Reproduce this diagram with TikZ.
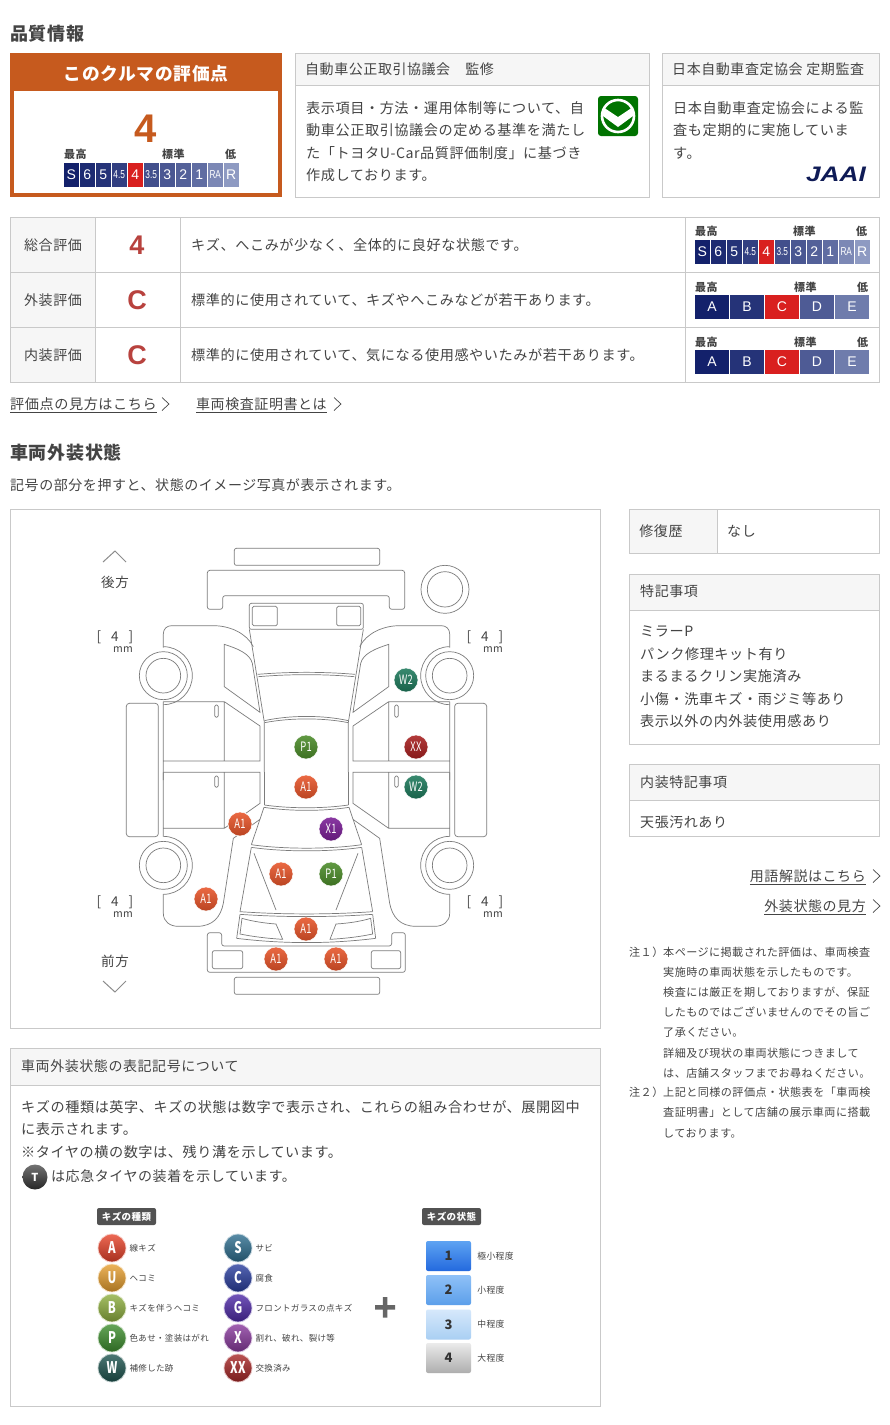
\documentclass[tikz,border=0pt]{standalone}
\usepackage{fontspec}
\setmainfont{Noto Sans CJK JP}[LetterSpace=4]
\newfontfamily\logofont{Liberation Sans}
\usetikzlibrary{positioning}
\definecolor{inktext}{HTML}{444444}
\definecolor{boxline}{HTML}{C9C9C9}
\definecolor{headfill}{HTML}{F6F6F6}
\definecolor{carink}{HTML}{7C7C7C}
\definecolor{rust}{HTML}{C65A1E}
\definecolor{navyhi}{HTML}{13216B}
\definecolor{navylo}{HTML}{8E9AC2}
\definecolor{flagred}{HTML}{D9201F}
\definecolor{gradered}{HTML}{B8423E}
\definecolor{dmgA}{HTML}{E8552A}
\definecolor{dmgP}{HTML}{4C8C2A}
\definecolor{dmgW}{HTML}{1E7A5C}
\definecolor{dmgXX}{HTML}{A82020}
\definecolor{dmgX}{HTML}{7A1E96}
\definecolor{kindA}{HTML}{E8432A}
\definecolor{kindU}{HTML}{E8A030}
\definecolor{kindB}{HTML}{8FB040}
\definecolor{kindP}{HTML}{3F8F2F}
\definecolor{kindW}{HTML}{1F5550}
\definecolor{kindS}{HTML}{2F6F90}
\definecolor{kindC}{HTML}{2A3F9F}
\definecolor{kindG}{HTML}{4F2AA8}
\definecolor{kindX}{HTML}{8A3A9E}
\definecolor{kindXX}{HTML}{A82828}
\tikzset{
  txt/.style={inner sep=0pt, anchor=west, text=inktext, font=\fontsize{#1}{#1}\selectfont},
  para/.style={inner sep=0pt, anchor=north west, align=left, text=inktext, font=\fontsize{14.15}{22.5}\selectfont},
  panel/.style={draw=boxline, line width=0.8pt, fill=white},
  headband/.style={draw=boxline, line width=0.8pt, fill=headfill},
  heading/.style={inner sep=0pt, anchor=west, text=inktext, font=\fontsize{18}{18}\selectfont\bfseries},
  cell/.style={inner sep=0pt, minimum height=24pt, text=white},
  carline/.style={draw=carink, line width=0.7pt},
  dmg/.style={shape=circle, minimum size=24pt, inner sep=0pt, text=white, draw=white, line width=0.5pt,
    font=\fontsize{13}{13}\selectfont, top color=#1!88!white, bottom color=#1!80!black},
  kind/.style={shape=circle, minimum size=28pt, inner sep=0pt, text=white, draw=#1!25!white, line width=0.8pt,
    font=\fontsize{16}{16}\selectfont\bfseries, top color=#1!80!white, bottom color=#1!72!black},
  tag/.style={inner sep=0pt, minimum width=59pt, minimum height=17pt, rounded corners=2pt, fill=black!68,
    text=white, font=\fontsize{9.5}{9.5}\selectfont\bfseries},
  level/.style={inner sep=0pt, minimum width=45pt, minimum height=30pt, rounded corners=2pt, text=black!80,
    font=\fontsize{13}{13}\selectfont\bfseries},
  barhead/.style={inner sep=0pt, anchor=west, text=inktext, font=\fontsize{11}{11}\selectfont\bfseries},
  chev/.style={draw=inktext, line width=0.7pt},
}
\newcommand{\tight}[1]{\scalebox{.72}[1]{#1}}
\newcommand{\smallcell}[1]{{\fontsize{11.5}{11.5}\selectfont\scalebox{.72}[1]{#1}}}
% eleven step bar
\newcommand{\stepbar}[3]{
  \node[barhead] (#1best) at (#2,#3-8) {最高};
  \node[barhead] (#1std) at (#2+98,#3-8) {標準};
  \node[barhead] (#1low) at (#2+161,#3-8) {低};
  \foreach \lab/\i/\pct in {S/0/100,6/1/92,5/2/85,\smallcell{4.5}/3/75,4/4/0,\smallcell{3.5}/5/62,3/6/55,2/7/47,1/8/37,\smallcell{RA}/9/15,R/10/0}{
    \ifnum\i=4 \colorlet{cellfill}{flagred}\else \colorlet{cellfill}{navyhi!\pct!navylo}\fi
    \node[cell, minimum width=14.5pt, fill=cellfill, font=\logofont\fontsize{14}{14}\selectfont] (#1s\i) at (#2+7.25+16*\i,#3+12) {\lab};
  }
}
% five letter bar
\newcommand{\gradebar}[3]{
  \node[barhead] (#1best) at (#2,#3-8) {最高};
  \node[barhead] (#1std) at (#2+99,#3-8) {標準};
  \node[barhead] (#1low) at (#2+162,#3-8) {低};
  \foreach \lab/\i/\pct in {A/0/100,B/1/85,C/2/0,D/3/52,E/4/25}{
    \ifnum\i=2 \colorlet{cellfill}{flagred}\else \colorlet{cellfill}{navyhi!\pct!navylo}\fi
    \node[cell, minimum width=34pt, fill=cellfill, font=\logofont\fontsize{14}{14}\selectfont] (#1g\i) at (#2+17+35*\i,#3+12) {\lab};
  }
}
\newcommand{\linkchev}[2]{\draw[chev] (#1,#2-6.5) -- (#1+7,#2) -- (#1,#2+6.5);}
% one side of the car, #1 is the x origin, #2 the x unit
\newcommand{\carside}[2]{
  \begin{scope}[shift={(#1,530)}, x=#2, y=-0.33333pt]
    \draw[carline] (220,353) -- (220,312) .. controls (220,297) and (230,287) .. (245,287) -- (370,287) .. controls (420,287) and (470,310) .. (490,350);
    \draw[carline] (220,350) arc[start angle=-90, end angle=90, radius=87];
    \draw[carline] (220,437) circle[radius=72] (220,437) circle[radius=52];
    \draw[carline] (403,343) .. controls (440,355) and (480,370) .. (487,400) -- (510,547) -- (403,470) -- cycle;
    \draw[carline] (220,515) -- (220,750) (220,515) -- (403,515) -- (510,588) -- (510,693) -- (220,693) (403,515) -- (403,693);
    \draw[carline, rounded corners=1.5pt] (374,525) rectangle (385,562);
    \draw[carline, rounded corners=3pt] (109,520) rectangle (205,920);
  \end{scope}
  \begin{scope}[shift={(#1,770)}, x=#2, y=-0.33333pt]
    \draw[carline] (220,7) -- (510,7) -- (510,100) -- (403,175) -- (220,175) (403,7) -- (403,175) (220,7) -- (220,200);
    \draw[carline, rounded corners=1.5pt] (374,18) rectangle (385,52);
    \draw[carline] (220,199) arc[start angle=-90, end angle=90, radius=87];
    \draw[carline] (220,286) circle[radius=72] (220,286) circle[radius=52];
    \draw[carline] (220,372) -- (220,430) .. controls (220,455) and (240,469) .. (265,469) -- (320,469) .. controls (370,469) and (392,440) .. (400,400) -- (430,205) -- (510,148);
  \end{scope}
}
\begin{document}
\begin{tikzpicture}[x=1pt, y=-1pt]
\useasboundingbox (0,0) rectangle (890,1425);
\node[heading] (quality) at (10,34) {品質情報};
% score box
\fill[rust] (10,53) rectangle (282,197);
\fill[white] (14,91) rectangle (278,193);
\node[text=white, inner sep=0pt, font=\fontsize{17.7}{17.7}\selectfont\bfseries] (scoretitle) at (146,74) {このクルマの評価点};
\node[text=rust, inner sep=0pt, font=\logofont\fontsize{40}{40}\selectfont\bfseries] (scorenum) at (146,129) {4};
\stepbar{top}{64}{162.5}
% supervision panels
\draw[panel] (295,53) rectangle (649,197);
\draw[headband] (295,53) rectangle (649,85);
\node[txt=14] (sup) at (305,69) {自動車公正取引協議会　監修};
\node[para] (suptext) at (306,101) {表示項目・方法・運用体制等について、自\\動車公正取引協議会の定める基準を満たし\\た「トヨタU-Car品質評価制度」に基づき\\作成しております。};
\fill[green!45!black, rounded corners=3pt] (598,96) rectangle (638,136);
\draw[white, line width=2.6pt] (618,116) circle[radius=16];
\fill[white] (603,107) -- (618,117) -- (633,107) -- (633,116) -- (618,127) -- (603,116) -- cycle;
\draw[panel] (662,53) rectangle (879.6,197);
\draw[headband] (662,53) rectangle (879.6,85);
\node[txt=14] (aud) at (672,69) {日本自動車査定協会 定期監査};
\node[para] (audtext) at (673,101) {日本自動車査定協会による監\\査も定期的に実施していま\\す。};
\node[inner sep=0pt, text=navyhi!80!black, font=\logofont\fontsize{21}{21}\selectfont\bfseries\itshape, xscale=1.25] (jaai) at (836,174) {JAAI};
% rating table
\draw[panel] (10,217) rectangle (879.6,382);
\fill[headfill] (10,217) rectangle (95,382);
\draw[boxline, line width=0.8pt] (10,217) rectangle (879.6,382);
\foreach \y in {272,327}{\draw[boxline, line width=0.8pt] (10,\y) -- (879.6,\y);}
\foreach \x in {95,180,685}{\draw[boxline, line width=0.8pt] (\x,217) -- (\x,382);}
\foreach \lab/\grd/\desc/\y/\nm in {総合評価/4/キズ、へこみが少なく、全体的に良好な状態です。/245/all,外装評価/C/標準的に使用されていて、キズやへこみなどが若干あります。/300/ext,内装評価/C/標準的に使用されていて、気になる使用感やいたみが若干あります。/355/int}{
  \node[txt=14, anchor=center] (\nm lab) at (53,\y) {\lab};
  \node[inner sep=0pt, text=gradered, font=\logofont\fontsize{27}{27}\selectfont\bfseries] (\nm grade) at (137,\y) {\grd};
  \node[txt=14.15] (\nm desc) at (191,\y) {\desc};
}
\stepbar{rowa}{695}{239.5}
\gradebar{rowb}{695}{295}
\gradebar{rowc}{695}{350}
\node[txt=14.15] (linka) at (10,405) {\underline{評価点の見方はこちら}};
\linkchev{162}{404}
\node[txt=14] (linkb) at (196,405) {\underline{車両検査証明書とは}};
\linkchev{334}{404}
\node[heading] (extcond) at (10,453) {車両外装状態};
\node[txt=14] (extnote) at (10,485) {記号の部分を押すと、状態のイメージ写真が表示されます。};
% car panel
\draw[panel] (10,509) rectangle (600.6,1028);
\carside{90}{0.33333pt}
\carside{523}{-0.33333pt}
\begin{scope}[shift={(90,530)}, x=0.33333pt, y=-0.33333pt]
  \draw[carline, rounded corners=2pt] (433,55) rectangle (869,106);
  \draw[carline, rounded corners=2.5pt] (352,121) -- (944,121) -- (944,238) -- (898,238) -- (898,197) -- (398,197) -- (398,238) -- (352,238) -- cycle;
  \draw[carline] (1065,178) circle[radius=72] (1065,178) circle[radius=53];
  \draw[carline, rounded corners=2pt] (478,298) -- (478,220) -- (820,220) -- (820,298) -- cycle;
  \draw[carline, rounded corners=1.5pt] (487,229) rectangle (562,287) (740,229) rectangle (812,287);
  \draw[carline] (478,298) -- (523,577) -- (523,726) (820,298) -- (775,577) -- (775,726);
  \draw[carline] (503,433) .. controls (600,425) and (700,425) .. (795,433);
  \draw[carline] (505,440) .. controls (600,432) and (700,432) .. (793,440);
  \draw[carline] (523,572) .. controls (600,555) and (700,555) .. (775,572);
  \draw[carline] (524,578) .. controls (600,563) and (700,563) .. (775,578);
\end{scope}
\begin{scope}[shift={(90,770)}, x=0.33333pt, y=-0.33333pt]
  \draw[carline] (523,7) -- (523,105) (775,7) -- (775,105);
  \draw[carline] (523,105) .. controls (600,116) and (700,116) .. (775,105);
  \draw[carline] (522,112) .. controls (600,124) and (700,124) .. (777,112);
  \draw[carline] (522,112) -- (484,224) (777,112) -- (815,224);
  \draw[carline] (484,224) .. controls (580,238) and (720,238) .. (815,224);
  \draw[carline] (484,232) .. controls (580,246) and (720,246) .. (815,232);
  \draw[carline] (484,232) -- (450,425) (815,232) -- (848,425);
  \draw[carline] (492,250) -- (558,420) (804,250) -- (738,420);
  \draw[carline] (450,425) .. controls (580,434) and (720,434) .. (848,425);
  \draw[carline] (450,433) .. controls (580,442) and (720,442) .. (848,433);
  \draw[carline] (450,433) -- (440,505) (848,433) -- (857,505);
  \draw[carline] (440,505) .. controls (580,522) and (720,522) .. (857,505);
  \draw[carline] (456,445) .. controls (490,455) and (530,460) .. (558,462) -- (578,508) .. controls (530,505) and (490,500) .. (450,492) -- cycle;
  \draw[carline] (842,445) .. controls (810,455) and (770,460) .. (738,462) -- (720,508) .. controls (770,505) and (810,500) .. (848,492) -- cycle;
  \draw[carline, rounded corners=2.5pt] (352,488) -- (395,488) -- (395,528) -- (905,528) -- (905,488) -- (946,488) -- (946,607) -- (352,607) -- cycle;
  \draw[carline, rounded corners=2pt] (367,542) rectangle (458,596) (844,542) rectangle (932,596) (433,622) rectangle (869,673);
\end{scope}
% damage marks
\foreach \lab/\col/\x/\y/\nm in {W2/dmgW/406/680/ma,XX/dmgXX/416/747/mb,P1/dmgP/306/747/mc,A1/dmgA/306/787/md,W2/dmgW/416/787/me,A1/dmgA/240/824/mf,X1/dmgX/331/829/mg,A1/dmgA/281/874/mh,P1/dmgP/331/874/mi,A1/dmgA/206/899/mj,A1/dmgA/306/929/mk,A1/dmgA/276/959/ml,A1/dmgA/336/959/mm}{
  \node[dmg=\col] (\nm) at (\x,\y) {\tight{\lab}};
}
\draw[draw=black!45, line width=1pt] (103,562) -- (115,551) -- (126,562);
\node[txt=13.5, anchor=center] (rearlab) at (115,582.5) {後方};
\node[txt=13.5, anchor=center] (frontlab) at (115,961.5) {前方};
\draw[draw=black!45, line width=1pt] (103,981) -- (115,992) -- (126,981);
\foreach \x/\y/\nm in {115/637/da,485/637/db,115/902/dc,485/902/dd}{
  \node[txt=13.5, anchor=center] (\nm) at (\x,\y) {[\hspace{10pt}4\hspace{10pt}]};
  \node[txt=10.5, anchor=center] (\nm mm) at (\x+8,\y+13) {mm};
}
% right column
\draw[panel] (629,509) rectangle (879.6,553);
\draw[headband] (629,509) rectangle (717,553);
\node[txt=14, anchor=center] (rep) at (661,531) {修復歴};
\node[txt=14] (repval) at (727,531) {なし};
\draw[panel] (629,574) rectangle (879.6,744);
\draw[headband] (629,574) rectangle (879.6,610);
\node[txt=14] (spec) at (640,591) {特記事項};
\node[para] (spectext) at (640,626) {ミラーP\\パンク修理キット有り\\まるまるクリン実施済み\\小傷・洗車キズ・雨ジミ等あり\\表示以外の内外装使用感あり};
\draw[panel] (629,764) rectangle (879.6,836);
\draw[headband] (629,764) rectangle (879.6,800);
\node[txt=14] (inner) at (640,782) {内装特記事項};
\node[txt=14] (innertext) at (640,822) {天張汚れあり};
\node[txt=14, anchor=east] (linkc) at (866,877) {\underline{用語解説はこちら}};
\linkchev{873}{876}
\node[txt=14, anchor=east] (linkd) at (866,907) {\underline{外装状態の見方}};
\linkchev{873}{906}
\node[para, font=\fontsize{11.1}{20.2}\selectfont] (notea) at (629,946.5) {注１）};
\node[para, font=\fontsize{11.1}{20.2}\selectfont] (notetext) at (663,946.5) {本ページに掲載された評価は、車両検査\\実施時の車両状態を示したものです。\\検査には厳正を期しておりますが、保証\\したものではございませんのでその旨ご\\了承ください。\\詳細及び現状の車両状態につきまして\\は、店舗スタッフまでお尋ねください。};
\node[para, font=\fontsize{11.1}{20.2}\selectfont] (noteb) at (629,1087) {注２）};
\node[para, font=\fontsize{11.1}{20.2}\selectfont] (notebtext) at (663,1087) {上記と同様の評価点・状態表を「車両検\\査証明書」として店舗の展示車両に搭載\\しております。};
% legend panel
\draw[panel] (10,1048) rectangle (600.6,1406);
\draw[headband] (10,1048) rectangle (600.6,1085);
\node[txt=14] (legend) at (21,1066) {車両外装状態の表記記号について};
\node[para] (legtext) at (21,1100) {キズの種類は英字、キズの状態は数字で表示され、これらの組み合わせが、展開図中\\に表示されます。\\※タイヤの横の数字は、残り溝を示しています。};
\node[shape=circle, minimum size=25pt, inner sep=0pt, top color=black!55, bottom color=black!85, text=white, font=\fontsize{11}{11}\selectfont\bfseries] (spare) at (35,1177) {T};
\node[txt=14] (sparetext) at (51,1176) {は応急タイヤの装着を示しています。};
\node[tag] (kindtag) at (126.5,1216.5) {キズの種類};
\node[tag] (statetag) at (451.5,1216.5) {キズの状態};
\foreach \lab/\col/\y/\txt/\i in {A/kindA/1248/線キズ/1,U/kindU/1278/ヘコミ/2,B/kindB/1308/キズを伴うヘコミ/3,P/kindP/1338/色あせ・塗装はがれ/4,W/kindW/1368/補修した跡/5}{
  \node[kind=\col] (ka\i) at (112,\y) {\tight{\lab}};
  \node[txt=8.5, right=3pt of ka\i] (kla\i) {\txt};
}
\foreach \lab/\col/\y/\txt/\i in {S/kindS/1248/サビ/1,C/kindC/1278/腐食/2,G/kindG/1308/フロントガラスの点キズ/3,X/kindX/1338/割れ、破れ、裂け等/4,XX/kindXX/1368/交換済み/5}{
  \node[kind=\col] (kb\i) at (238,\y) {\tight{\lab}};
  \node[txt=8.5, right=3pt of kb\i] (klb\i) {\txt};
}
\fill[black!60] (375,1305) rectangle (395,1309.5) (382.75,1297) rectangle (387.25,1317.5);
\definecolor{lvA}{HTML}{5EA3F2}\definecolor{lvB}{HTML}{2369DE}
\definecolor{lvC}{HTML}{8FC1F7}\definecolor{lvD}{HTML}{5C9FEA}
\definecolor{lvE}{HTML}{D6E8FB}\definecolor{lvF}{HTML}{A9CFF3}
\foreach \lab/\hi/\lo/\y/\txt in {1/lvA/lvB/1256/極小程度,2/lvC/lvD/1290/小程度,3/lvE/lvF/1324.5/中程度,4/black!8/black!32/1358/大程度}{
  \node[level, top color=\hi, bottom color=\lo] (lv\lab) at (448.5,\y) {\lab};
  \node[txt=8.8, right=6pt of lv\lab] (lvl\lab) {\txt};
}
\end{tikzpicture}
\end{document}
